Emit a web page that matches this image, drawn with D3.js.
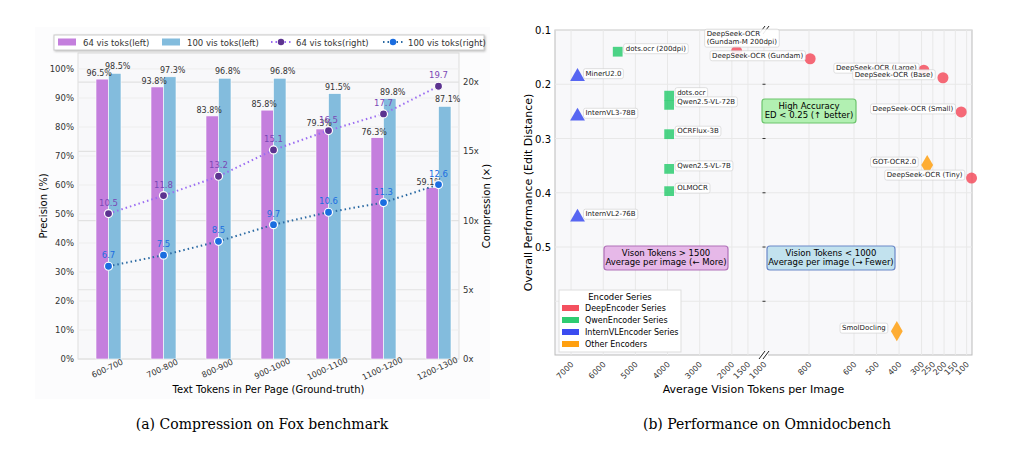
<!DOCTYPE html>
<html><head><meta charset="utf-8">
<script src="https://cdn.jsdelivr.net/npm/d3@7"></script>
<style>body{margin:0;background:#fff}svg{font-family:"DejaVu Sans",sans-serif}</style>
</head><body><svg width="1024" height="450"></svg>
<script>
// ---- left panel data
const ranges = ["600-700","700-800","800-900","900-1000","1000-1100","1100-1200","1200-1300"];
const prec64 = [96.5, 93.8, 83.8, 85.8, 79.3, 76.3, 59.1];
const prec100 = [98.5, 97.3, 96.8, 96.8, 91.5, 89.8, 87.1];
const comp64 = [10.5, 11.8, 13.2, 15.1, 16.5, 17.7, 19.7];
const comp100 = [6.7, 7.5, 8.5, 9.7, 10.6, 11.3, 12.6];
const precTicks = [0,10,20,30,40,50,60,70,80,90,100];
const compTicks = [0,5,10,15,20];

// ---- right panel data
const models = ["DeepSeek-OCR\n(Gundam-M 200dpi)","DeepSeek-OCR (Gundam)","DeepSeek-OCR (Large)","DeepSeek-OCR (Base)",
  "DeepSeek-OCR (Small)","DeepSeek-OCR (Tiny)","GOT-OCR2.0","SmolDocling","dots.ocr (200dpi)","dots.ocr","Qwen2.5-VL-72B",
  "OCRFlux-3B","Qwen2.5-VL-7B","OLMOCR","MinerU2.0","InternVL3-78B","InternVL2-76B"];
const visTokens = [1850, 795, 290, 205, 124, 78, 275, 410, 5550, 3950, 3950, 3950, 3950, 3950, 6800, 6800, 6800];
const editDist = [0.139, 0.153, 0.174, 0.188, 0.251, 0.373, 0.349, 0.655, 0.140, 0.221, 0.238, 0.292, 0.356, 0.397, 0.186, 0.259, 0.445];
const series = ["Deep","Deep","Deep","Deep","Deep","Deep","Other","Other","Qwen","Qwen","Qwen","Qwen","Qwen","Qwen","Intern","Intern","Intern"];
const seriesNames = ["DeepEncoder Series","QwenEncoder Series","InternVLEncoder Series","Other Encoders"];
const tokTicksL = [7000,6000,5000,4000,3000,2000,1500,1000];
const tokTicksR = [800,600,500,400,300,250,200,150,100];
const edTicks = [0.1,0.2,0.3,0.4,0.5];

const svg = d3.select("svg");

// ================= LEFT =================
const L = {l:78, r:459, t:53, b:359};
svg.append("rect").attr("x",35).attr("y",27).attr("width",455).attr("height",372).attr("fill","#fcfcfd");
svg.append("rect").attr("x",L.l).attr("y",L.t).attr("width",L.r-L.l).attr("height",L.b-L.t).attr("fill","#f8f8fa").attr("stroke","#ddd");

const yP = d3.scaleLinear().domain([0,105.5]).range([L.b,L.t]);
const yC = d3.scaleLinear().domain([0,22.1]).range([L.b,L.t]);
const xB = d3.scaleBand().domain(ranges).range([L.l+3,L.r+7]).paddingInner(0.5).paddingOuter(0.25);

svg.append("g").selectAll("line").data(precTicks).join("line")
  .attr("x1",L.l).attr("x2",L.r).attr("y1",d=>yP(d)).attr("y2",d=>yP(d)).attr("stroke","#eee");
svg.append("g").selectAll("line").data(compTicks).join("line")
  .attr("x1",L.l).attr("x2",L.r).attr("y1",d=>yC(d)).attr("y2",d=>yC(d)).attr("stroke","#e2e2e2").attr("stroke-width",1.2);

const bw = 12.5;
const cx = d => xB(d)+xB.bandwidth()/2;
svg.append("g").selectAll("rect").data(ranges).join("rect")
  .attr("x",(d)=>cx(d)-bw).attr("width",bw).attr("y",(d,i)=>yP(prec64[i])).attr("height",(d,i)=>L.b-yP(prec64[i]))
  .attr("fill","#c47fdd").attr("stroke","#fff").attr("stroke-width",0.6);
svg.append("g").selectAll("rect").data(ranges).join("rect")
  .attr("x",(d)=>cx(d)).attr("width",bw).attr("y",(d,i)=>yP(prec100[i])).attr("height",(d,i)=>L.b-yP(prec100[i]))
  .attr("fill","#83bcdd").attr("stroke","#fff").attr("stroke-width",0.6);
svg.append("g").selectAll("text").data(ranges).join("text")
  .attr("x",d=>cx(d)-bw/2-3).attr("y",(d,i)=>yP(prec64[i])-3).attr("text-anchor","middle")
  .attr("font-size",8).attr("fill","#333").text((d,i)=>prec64[i].toFixed(1)+"%");
svg.append("g").selectAll("text").data(ranges).join("text")
  .attr("x",d=>cx(d)+bw/2+3).attr("y",(d,i)=>yP(prec100[i])-4).attr("text-anchor","middle")
  .attr("font-size",8).attr("fill","#333").text((d,i)=>prec100[i].toFixed(1)+"%");

function compLine(vals, lc, mc, tc){
  const line = d3.line().x((d,i)=>cx(ranges[i])).y(d=>yC(d));
  svg.append("path").datum(vals).attr("d",line).attr("fill","none").attr("stroke",lc).attr("stroke-width",2).attr("stroke-dasharray","1.5 3");
  svg.append("g").selectAll("circle").data(vals).join("circle")
    .attr("cx",(d,i)=>cx(ranges[i])).attr("cy",d=>yC(d)).attr("r",4).attr("fill",mc).attr("stroke","#fff").attr("stroke-width",1.2);
  svg.append("g").selectAll("text").data(vals).join("text")
    .attr("x",(d,i)=>cx(ranges[i])).attr("y",d=>yC(d)-8).attr("text-anchor","middle")
    .attr("font-size",8.5).attr("fill",tc).text(d=>d.toFixed(1));
}
compLine(comp64,"#9b6cf2","#5c3390","#7a47b5");
compLine(comp100,"#2b6aa3","#1a6de0","#1a6de0");

svg.append("g").selectAll("text").data(precTicks).join("text")
  .attr("x",L.l-4).attr("y",d=>yP(d)+3).attr("text-anchor","end").attr("font-size",8.5).attr("fill","#333").text(d=>d+"%");
svg.append("g").selectAll("text").data(compTicks).join("text")
  .attr("x",L.r+4).attr("y",d=>yC(d)+3).attr("font-size",8.5).attr("fill","#333").text(d=>d+"x");
svg.append("g").selectAll("text").data(ranges).join("text")
  .attr("transform",d=>`translate(${cx(d)},${L.b+12}) rotate(-25)`).attr("text-anchor","middle")
  .attr("font-size",8).attr("fill","#333").text(d=>d);
svg.append("text").attr("x",(L.l+L.r)/2).attr("y",393).attr("text-anchor","middle").attr("font-size",10).text("Text Tokens in Per Page (Ground-truth)");
svg.append("text").attr("transform",`translate(47,${(L.t+L.b)/2}) rotate(-90)`).attr("text-anchor","middle").attr("font-size",10).text("Precision (%)");
svg.append("text").attr("transform",`translate(490,${(L.t+L.b)/2}) rotate(-90)`).attr("text-anchor","middle").attr("font-size",10).text("Compression (×)");

// legend
const lg = svg.append("g");
lg.append("rect").attr("x",54).attr("y",35).attr("width",430).attr("height",15).attr("fill","#fff").attr("stroke","#ccc").style("filter","drop-shadow(1px 1px 1px #bbb)");
const legItems = [["64 vis toks(left)","bar","#c47fdd"],["100 vis toks(left)","bar","#83bcdd"],["64 vis toks(right)","pt","#5c3390","#9b6cf2"],["100 vis toks(right)","pt","#1a6de0","#2b6aa3"]];
const legX = [58,162,271,383];
legItems.forEach((it,i)=>{
  const x=legX[i];
  if(it[1]==="bar") lg.append("rect").attr("x",x).attr("y",38.5).attr("width",18).attr("height",7).attr("fill",it[2]);
  else { lg.append("line").attr("x1",x).attr("x2",x+20).attr("y1",42).attr("y2",42).attr("stroke",it[3]).attr("stroke-width",2).attr("stroke-dasharray","1.5 3");
    lg.append("circle").attr("cx",x+10).attr("cy",42).attr("r",3.2).attr("fill",it[2]); }
  lg.append("text").attr("x",x+25).attr("y",45.5).attr("font-size",8.5).attr("fill","#333").text(it[0]);
});

// ================= RIGHT =================
const R = {l:555, r:972, t:30, b:355, brk:764};
svg.append("rect").attr("x",R.l).attr("y",R.t).attr("width",R.r-R.l).attr("height",R.b-R.t).attr("fill","#f8f8fa").attr("stroke","#bbb");
const xL = d3.scaleLinear().domain([7500,1000]).range([R.l,R.brk]);
const xR = d3.scaleLinear().domain([1000,76]).range([R.brk,R.r]);
const xs = v => v>=1000 ? xL(v) : xR(v);
const yE = d3.scaleLinear().domain([0.1,0.699]).range([R.t,R.b]);

const allX = tokTicksL.concat(tokTicksR);
svg.append("g").selectAll("line").data(allX).join("line")
  .attr("x1",d=>xs(d)).attr("x2",d=>xs(d)).attr("y1",R.t).attr("y2",R.b).attr("stroke","#e8e8e8");
svg.append("g").selectAll("line").data(edTicks.concat([0.6])).join("line")
  .attr("x1",R.l).attr("x2",R.r).attr("y1",d=>yE(d)).attr("y2",d=>yE(d)).attr("stroke","#e8e8e8");
svg.append("g").selectAll("line").data(edTicks.slice(1).concat([0.6])).join("line")
  .attr("x1",R.brk-1.5).attr("x2",R.brk+1.5).attr("y1",d=>yE(d)).attr("y2",d=>yE(d)).attr("stroke","#333");
svg.append("g").selectAll("text").data(edTicks).join("text")
  .attr("x",R.l-4).attr("y",d=>yE(d)+4).attr("text-anchor","end").attr("font-size",10).text(d=>d.toFixed(1));
svg.append("g").selectAll("text").data(allX).join("text")
  .attr("transform",d=>`translate(${xs(d)+3},${R.b+10}) rotate(-45)`).attr("text-anchor","end")
  .attr("font-size",8).attr("fill","#333").text(d=>d);
// break marks
[R.t,R.b].forEach(y=>{
  svg.append("rect").attr("x",R.brk-4).attr("y",y-4).attr("width",8).attr("height",8).attr("fill","#fff");
  [-2,2].forEach(o=>svg.append("line").attr("x1",R.brk+o-3).attr("x2",R.brk+o+3).attr("y1",y+4).attr("y2",y-4).attr("stroke","#222").attr("stroke-width",1));
});
svg.append("text").attr("x",(R.l+R.r)/2-10).attr("y",393).attr("text-anchor","middle").attr("font-size",11).text("Average Vision Tokens per Image");
svg.append("text").attr("transform",`translate(532,${(R.t+R.b)/2}) rotate(-90)`).attr("text-anchor","middle").attr("font-size",11).text("Overall Performance (Edit Distance)");

// annotation boxes
function annBox(x,y,w,h,fill,stroke,lines){
  svg.append("rect").attr("x",x).attr("y",y).attr("width",w).attr("height",h).attr("rx",3).attr("fill",fill).attr("stroke",stroke).attr("stroke-width",1.2);
  lines.forEach((t,i)=>svg.append("text").attr("x",x+w/2).attr("y",y+10+i*9).attr("text-anchor","middle").attr("font-size",8.5).text(t));
}
annBox(762,99,94,24,"#b2f0b2","#6cc46c",["High Accuracy","ED < 0.25 (↑ better)"]);
annBox(604,246,124,24,"#e6b8e8","#b070b8",["Vison Tokens > 1500","Average per image (← More)"]);
annBox(767,246,128,24,"#c2e2ee","#6a88c8",["Vision Tokens < 1000","Average per image (→ Fewer)"]);

const colors = {Deep:"#f4505f",Qwen:"#2ecc71",Intern:"#3b4cf0",Other:"#ffa010"};
const pts = models.map((m,i)=>({m, x:xs(visTokens[i]), y:yE(editDist[i]), s:series[i]}));
// label offsets (layout): [dx, dy, anchor]
const lab = {"DeepSeek-OCR\n(Gundam-M 200dpi)":[-30,-18,"start"],"DeepSeek-OCR (Gundam)":[-7,-4,"end"],
  "DeepSeek-OCR (Large)":[-7,-3,"end"],"DeepSeek-OCR (Base)":[-10,-4,"end"],"DeepSeek-OCR (Small)":[-8,-4,"end"],
  "DeepSeek-OCR (Tiny)":[-9,-4,"end"],"GOT-OCR2.0":[-11,-4,"end"],"SmolDocling":[-11,-4,"end"]};
const sym = {Deep:d3.symbolCircle,Qwen:d3.symbolSquare,Intern:d3.symbolTriangle,Other:d3.symbolDiamond};
pts.forEach(p=>{
  svg.append("path").attr("transform",`translate(${p.x},${p.y})`).attr("d",d3.symbol(sym[p.s],p.s==="Other"?120:95)())
    .attr("fill",colors[p.s]).attr("opacity",0.85);
});
pts.forEach(p=>{
  const o = lab[p.m] || [8,-4,"start"];
  const g = svg.append("g");
  const lines = p.m.split("\n");
  const t = g.append("text").attr("font-size",7).attr("fill","#222").attr("text-anchor",o[2]);
  lines.forEach((s,i)=>t.append("tspan").attr("x",p.x+o[0]).attr("y",p.y+o[1]+3+i*8).text(s));
  const bb = t.node().getBBox();
  g.insert("rect","text").attr("x",bb.x-2).attr("y",bb.y-1).attr("width",bb.width+4).attr("height",bb.height+2)
    .attr("rx",2).attr("fill","#fff").attr("fill-opacity",0.9).attr("stroke","#ccc").attr("stroke-width",0.6);
});

// legend
const rl = svg.append("g");
rl.append("rect").attr("x",559).attr("y",290).attr("width",122).attr("height",62).attr("fill","#fff").attr("stroke","#ddd");
rl.append("text").attr("x",620).attr("y",300).attr("text-anchor","middle").attr("font-size",8.5).text("Encoder Series");
seriesNames.forEach((n,i)=>{
  rl.append("rect").attr("x",562).attr("y",305+i*12).attr("width",17).attr("height",6).attr("fill",colors[["Deep","Qwen","Intern","Other"][i]]);
  rl.append("text").attr("x",585).attr("y",311+i*12).attr("font-size",8).text(n);
});

// captions
svg.append("text").attr("x",262).attr("y",429).attr("text-anchor","middle").attr("font-family","'DejaVu Serif',serif").attr("font-size",14).text("(a)  Compression on Fox benchmark");
svg.append("text").attr("x",767).attr("y",429).attr("text-anchor","middle").attr("font-family","'DejaVu Serif',serif").attr("font-size",14).text("(b)  Performance on Omnidocbench");
</script></body></html>
